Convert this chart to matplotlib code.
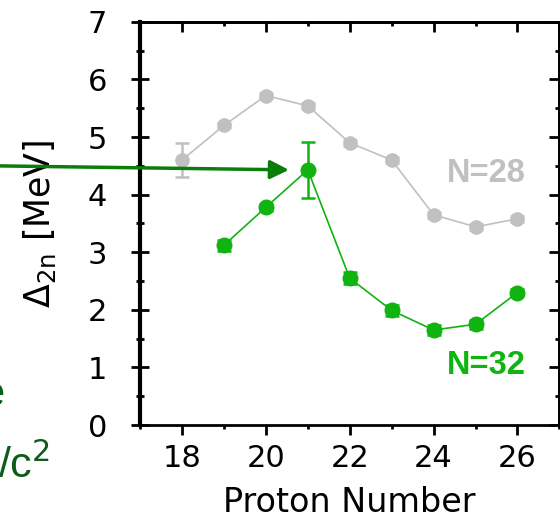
import matplotlib.pyplot as plt
from matplotlib.ticker import MultipleLocator

# datos
z = [18, 19, 20, 21, 22, 23, 24, 25, 26]
d2n_n28 = [4.60, 5.20, 5.72, 5.54, 4.90, 4.60, 3.65, 3.44, 3.58]
err_n28 = [0.30, 0.05, 0.05, 0.05, 0.05, 0.05, 0.05, 0.05, 0.05]

z32 = [19, 20, 21, 22, 23, 24, 25, 26]
d2n_n32 = [3.12, 3.78, 4.43, 2.55, 1.99, 1.65, 1.75, 2.30]
err_n32 = [0.10, 0.06, 0.48, 0.10, 0.10, 0.08, 0.08, 0.06]

gris = '#c0c0c0'
verde = '#10b410'
verde_osc = '#0b7d0b'

fig = plt.figure(figsize=(5.6, 5.19), dpi=100)
ax = fig.add_axes([0.25, 0.181, 0.749, 0.777])

ax.errorbar(z, d2n_n28, yerr=err_n28, color=gris, marker='o', ms=9.5,
            lw=1.2, capsize=5, elinewidth=1.8, capthick=1.8)
ax.errorbar(z32, d2n_n32, yerr=err_n32, color=verde, marker='o', ms=10.5,
            lw=1.2, capsize=5, elinewidth=1.8, capthick=1.8)

ax.text(26.2, 4.36, 'N=28', color=gris, fontsize=23.5, fontweight='bold',
        ha='right', va='center', family='Liberation Sans')
ax.text(26.2, 1.04, 'N=32', color=verde, fontsize=23.5, fontweight='bold',
        ha='right', va='center', family='Liberation Sans')

# flecha que viene desde la parte izquierda de la figura original
ax.annotate('', xy=(20.55, 4.43), xytext=(13.5, 4.50),
            arrowprops=dict(arrowstyle='-|>', mutation_scale=28, lw=2.5,
                            color=verde_osc, shrinkA=0, shrinkB=0),
            annotation_clip=False)

# texto cortado del panel de la izquierda
fig.text(0.007, 0.218, 'e', color='#0d5c1c', fontsize=30,
         family='Liberation Sans', ha='right', va='baseline')
fig.text(-0.004, 0.079, '/c$^2$', color='#0d5c1c', fontsize=31,
         family='Liberation Sans', ha='left', va='baseline')

ax.set_xlim(17, 27)
ax.set_ylim(0, 7)
ax.xaxis.set_major_locator(MultipleLocator(2))
ax.xaxis.set_minor_locator(MultipleLocator(1))
ax.yaxis.set_major_locator(MultipleLocator(1))
ax.yaxis.set_minor_locator(MultipleLocator(0.5))
ax.tick_params(which='both', labelsize=22, width=2)
ax.tick_params(axis='x', which='both', direction='out', pad=6.5)
ax.tick_params(axis='x', which='major', length=7.2)
ax.tick_params(axis='x', which='minor', length=3)
ax.tick_params(axis='y', which='both', direction='inout', pad=17)
ax.tick_params(axis='y', which='major', length=13)
ax.tick_params(axis='y', which='minor', length=5.8)

# ticks de arriba y derecha hacia adentro
arriba = ax.secondary_xaxis('top')
derecha = ax.secondary_yaxis('right')
for sec in (arriba, derecha):
    sec.tick_params(which='both', direction='in', width=2, labelsize=0)
    sec.tick_params(which='major', length=7.2)
    sec.tick_params(which='minor', length=3)
arriba.xaxis.set_major_locator(MultipleLocator(2))
arriba.xaxis.set_minor_locator(MultipleLocator(1))
derecha.yaxis.set_major_locator(MultipleLocator(1))
derecha.yaxis.set_minor_locator(MultipleLocator(0.5))
arriba.set_xticklabels([])
derecha.set_yticklabels([])
arriba.spines['top'].set_linewidth(2)
derecha.spines['right'].set_linewidth(2)

for s in ax.spines.values():
    s.set_linewidth(2)
ax.spines['left'].set_linewidth(3)

ax.set_xlabel('Proton Number', fontsize=24, labelpad=9)
ax.set_ylabel(r'$\Delta_{\rm 2n}$ [MeV]', fontsize=25)
ax.yaxis.set_label_coords(-0.195, 0.5)

fig.savefig('out.png', dpi=100)
